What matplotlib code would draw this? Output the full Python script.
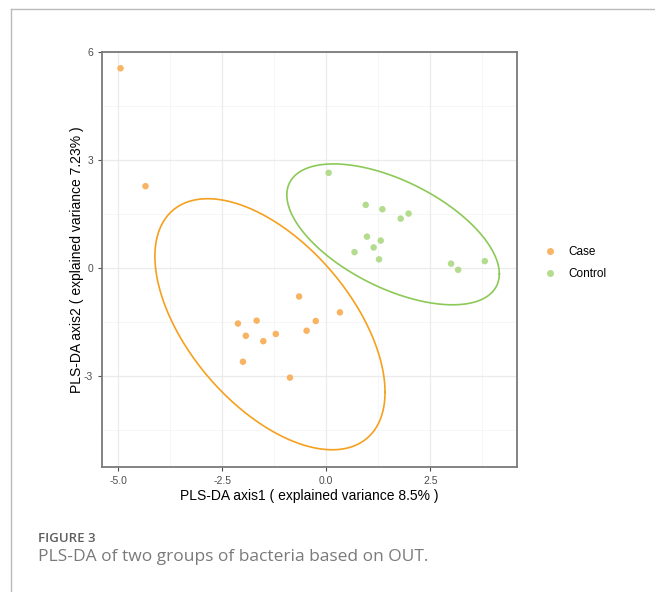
import numpy as np
import matplotlib
matplotlib.use("Agg")
import matplotlib.pyplot as plt
from matplotlib.lines import Line2D

# ---- data ----
case_x = [-4.94, -4.34, -2.12, -1.67, -1.93, -1.51, -1.21, -2.00, -0.65, -0.25, -0.47, 0.33, -0.87]
case_y = [5.54, 2.27, -1.54, -1.46, -1.88, -2.03, -1.83, -2.60, -0.79, -1.47, -1.74, -1.23, -3.04]
ctrl_x = [0.06, 0.95, 1.35, 1.79, 1.98, 0.98, 1.31, 1.14, 0.68, 1.27, 3.00, 3.17, 3.81]
ctrl_y = [2.64, 1.75, 1.63, 1.37, 1.51, 0.87, 0.76, 0.57, 0.44, 0.24, 0.12, -0.05, 0.19]

# ellipse params: center x, center y, sd x, sd y, correlation
case_ell = dict(cx=-1.35, cy=-1.56, sx=2.764, sy=3.482, rho=-0.541)
ctrl_ell = dict(cx=1.607, cy=0.933, sx=2.552, sy=1.954, rho=-0.56)

groups = ["Case", "Control"]
xticks = [-5.0, -2.5, 0.0, 2.5]
yticks = [-3, 0, 3, 6]

pt_colors = {"Case": "#F8B462", "Control": "#B3DC8F"}
ell_colors = {"Case": "#F5A01E", "Control": "#8CC956"}

plt.rcParams['font.family'] = ['Liberation Sans', 'DejaVu Sans']

fig = plt.figure(figsize=(6.55, 5.92), dpi=100)
ax = fig.add_axes([102/655, 1-467/592, (517-102)/655, (467-51.7)/592])

for x in [-3.75, -1.25, 1.25, 3.75]:
    ax.axvline(x, color="#F5F5F5", lw=0.6, zorder=0)
for y in [4.5, 1.5, -1.5, -4.5]:
    ax.axhline(y, color="#F5F5F5", lw=0.6, zorder=0)
for x in xticks:
    ax.axvline(x, color="#EBEBEB", lw=0.9, zorder=0)
for y in yticks:
    ax.axhline(y, color="#EBEBEB", lw=0.9, zorder=0)

def draw_ellipse(p, color):
    t = np.linspace(0, 2*np.pi, 300)
    ex = p['cx'] + p['sx']*np.cos(t)
    ey = p['cy'] + p['sy']*(p['rho']*np.cos(t) + np.sqrt(1-p['rho']**2)*np.sin(t))
    ax.plot(ex, ey, color=color, lw=1.2, zorder=2)

draw_ellipse(case_ell, ell_colors["Case"])
draw_ellipse(ctrl_ell, ell_colors["Control"])

ax.scatter(case_x, case_y, s=22, color=pt_colors["Case"], edgecolors='none', zorder=3)
ax.scatter(ctrl_x, ctrl_y, s=22, color=pt_colors["Control"], edgecolors='none', zorder=3)

ax.set_xlim(-5.385, 4.584)
ax.set_ylim(-5.52, 6.0)
ax.set_xticks(xticks)
ax.set_xticklabels(["-5.0", "-2.5", "0.0", "2.5"])
ax.set_yticks(yticks)
ax.set_yticklabels(["-3", "0", "3", "6"])
ax.tick_params(axis='both', labelsize=7.5, labelcolor="#4D4D4D", color="#4D4D4D", length=3, width=0.8)
for s in ax.spines.values():
    s.set_color("#7A7A7A")
    s.set_linewidth(1.3)

ax.set_xlabel("PLS-DA axis1 ( explained variance 8.5% )", fontsize=10, labelpad=2)
ax.set_ylabel("PLS-DA axis2 ( explained variance 7.23% )", fontsize=10, labelpad=0)

handles = [Line2D([], [], marker='o', ls='none', markersize=5, markerfacecolor=pt_colors[g],
                  markeredgecolor='none') for g in groups]
fig.legend(handles, groups, loc='center left', bbox_to_anchor=(528/655, 1-263/592),
           frameon=False, fontsize=8.5, handletextpad=0.5, labelspacing=0.8)

# outer frame lines
fig.add_artist(Line2D([11/655, 1], [1-9/592, 1-9/592], color="#BBBBBB", lw=1.0))
fig.add_artist(Line2D([11/655, 11/655], [0, 1-9/592], color="#BBBBBB", lw=1.0))

fig.text(38/655, 1-538/592, "FIGURE 3", fontsize=9.5, color="#5E5E5E", va='center',
         weight='semibold', family=['Open Sans', 'DejaVu Sans'])
fig.text(38/655, 1-557/592, "PLS-DA of two groups of bacteria based on OUT.", fontsize=12.5,
         color="#7A7A7A", va='center', family=['Open Sans', 'DejaVu Sans'])

fig.savefig("out.png", dpi=100)
